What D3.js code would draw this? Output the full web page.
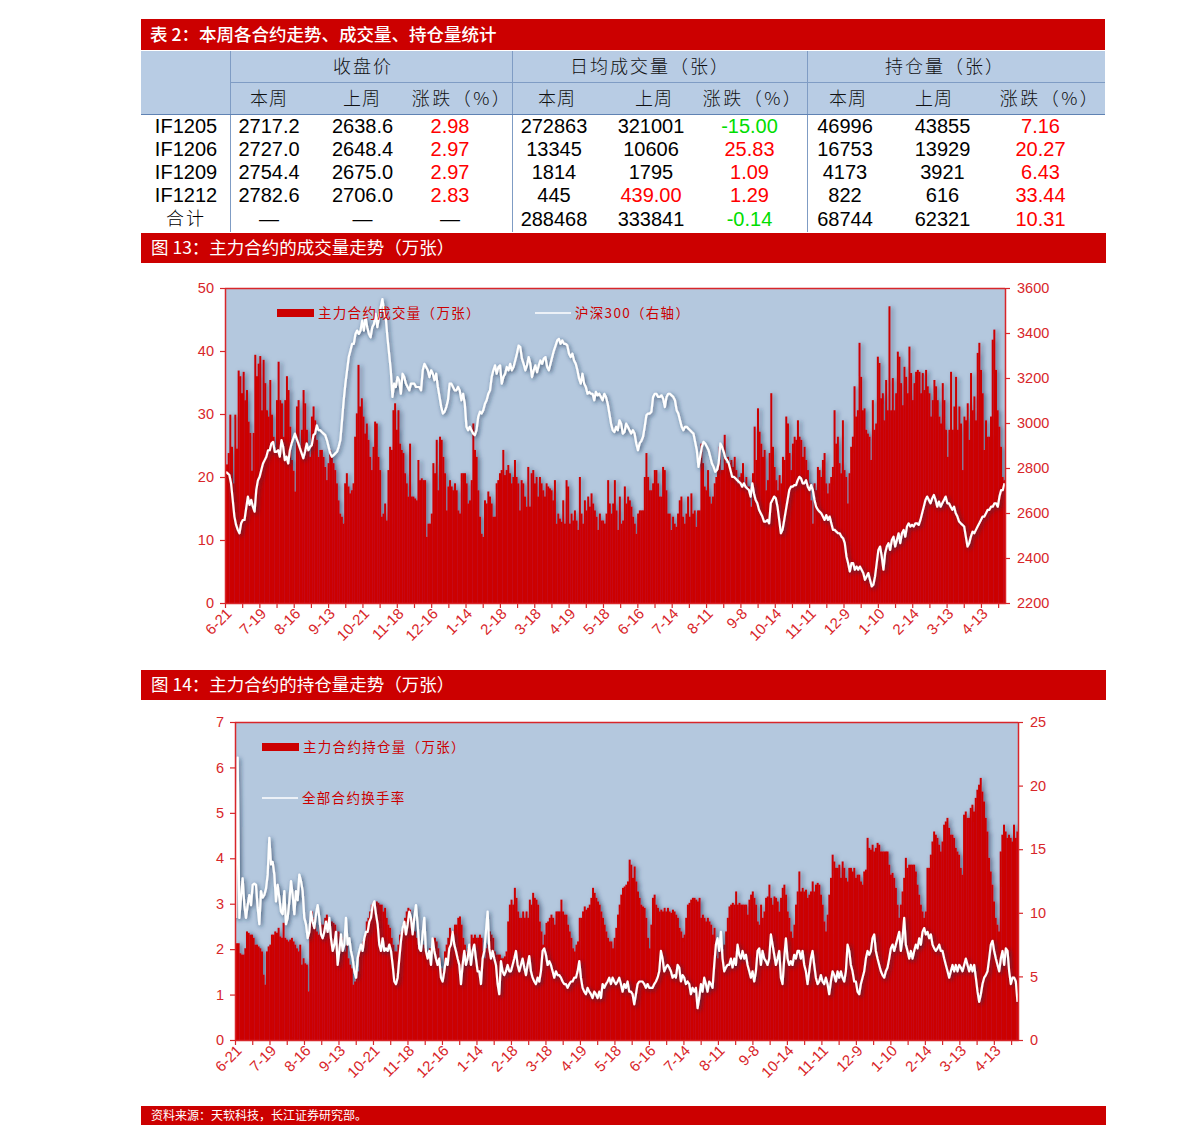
<!DOCTYPE html>
<html><head><meta charset="utf-8">
<script src="https://cdn.jsdelivr.net/npm/d3@7"></script>
<style>body{margin:0;background:#fff;}svg{display:block;}</style>
</head><body>
<svg id="c" width="1191" height="1147"></svg>
<script>
// ---------------- table data ----------------
const tableTitle = "表 2：本周各合约走势、成交量、持仓量统计";
const groupHeaders = ["收盘价", "日均成交量（张）", "持仓量（张）"];
const subHeaders = ["本周", "上周", "涨跌（%）", "本周", "上周", "涨跌（%）", "本周", "上周", "涨跌（%）"];
const contracts = ["IF1205", "IF1206", "IF1209", "IF1212", "合计"];
const closeThis = ["2717.2", "2727.0", "2754.4", "2782.6", "—"];
const closeLast = ["2638.6", "2648.4", "2675.0", "2706.0", "—"];
const closeChg = ["2.98", "2.97", "2.97", "2.83", "—"];
const volThis = ["272863", "13345", "1814", "445", "288468"];
const volLast = ["321001", "10606", "1795", "439.00", "333841"];
const volChg = ["-15.00", "25.83", "1.09", "1.29", "-0.14"];
const oiThis = ["46996", "16753", "4173", "822", "68744"];
const oiLast = ["43855", "13929", "3921", "616", "62321"];
const oiChg = ["7.16", "20.27", "6.43", "33.44", "10.31"];

// ---------------- chart data ----------------
const fig13Title = "图 13：主力合约的成交量走势（万张）";
const fig14Title = "图 14：主力合约的持仓量走势（万张）";
const sourceNote = "资料来源：天软科技，长江证券研究部。";
const dateLabels = ["6-21","7-19","8-16","9-13","10-21","11-18","12-16","1-14","2-18","3-18","4-19","5-18","6-16","7-14","8-11","9-8","10-14","11-11","12-9","1-10","2-14","3-13","4-13"];
const totalDays = 454;
const legend13 = ["主力合约成交量（万张）", "沪深300（右轴）"];
const legend14 = ["主力合约持仓量（万张）", "全部合约换手率"];
const volTicks = [0,10,20,30,40,50];
const hsTicks = [2200,2400,2600,2800,3000,3200,3400,3600];
const oiTicks = [0,1,2,3,4,5,6,7];
const toTicks = [0,5,10,15,20,25];

// main contract volume (10k lots), daily
const volume = [
22,23.8,29.9,24.8,19,29.9,24.5,36.9,36,33.3,36.7,32.2,33.8,28.8,27,21,27,39.4,36,38,39.2,30.6,38.6,34.9,30.6,29.6,35.4,29.9,26.4,23.8,32.2,38.3,32.2,31.7,26.4,32.2,36,33.8,28,22.7,21,17.7,31.2,32.2,24.8,27.5,33.8,31.7,27.5,24.3,23.2,29.6,31.2,29,25.9,23.2,24.3,24.3,23.2,21.6,19.5,22.2,24.3,23.2,22.2,21.1,19,16.3,14.2,13.7,12.6,19,20.6,18.5,17.4,17.9,19,26.4,30.1,37.8,31.2,32.5,29.6,26.9,28.5,25.9,23.2,21.1,24.8,28.8,28.5,23.2,21.1,13.7,14.2,15.8,13.1,21.1,24.8,24.3,30.6,31.7,27.5,30.6,25.3,24.3,23.8,20.6,19,16.9,25.3,16.9,16.9,16.6,16.3,22.7,19.5,19.8,19.5,19.5,10.5,12.6,12.6,14.2,22.2,20.6,25.9,17.9,26.4,25.9,23.2,20.6,14.7,18.5,19.5,18.5,17.9,19,17.9,14.7,14.2,20.6,20.6,20.6,19,15.8,16.3,19.5,28.5,24.3,23.2,17.9,13.7,11,10.5,16.3,15.8,
17.7,16.9,15.8,13.7,13.7,19,19.5,20.6,21.1,24.3,20.3,21.1,21.9,20.6,19,20,22.7,20,19,14.7,19.5,19,16.9,15.3,21.6,15.3,20.6,21.1,19,20,16.9,20,19,17.9,16.9,19,18.5,18.2,17.9,16.3,19.5,12.6,14.2,13.4,12.9,16.3,12.6,19.5,18.5,12.6,14.2,13.1,14.7,13.1,11.6,20,14.2,12.6,16.3,14.7,16.9,15.3,17.4,15.8,14.7,13.7,11.6,14.2,13.1,13.1,12.6,14.2,19.5,15.8,14.2,15.8,19.5,14.7,11.6,16.9,12.6,13.1,18.5,15.8,16.9,16.3,15.3,13.7,12.6,11,14.2,14.7,14.7,14.7,20,23.8,20,17.9,17.9,19,21.1,21.1,19,16.9,16.9,21.6,21.1,17.9,14.2,14.2,11.6,13.7,12.6,12.1,14.2,16.3,16.9,13.7,12.6,14.2,16.9,13.7,17.4,14.2,14.7,12.1,14.7,14.7,25.3,22.2,18.5,17.9,21.1,16.9,15.8,16.9,19,20,21.1,24.8,21.1,21.1,26.7,22.2,23.2,22.2,22.7,21.6,23.2,21.1,19,20,20.6,22.2,19,20,18.5,
18.5,15.3,20.6,28,22.7,30.9,27.2,25.3,23.2,24.3,17.9,19.5,23.8,33.3,24.8,21.6,19.5,17.9,20.3,19,23.2,22.7,29.6,28.5,23.8,21.1,25.3,26.4,25.9,29,26.4,25.9,23.2,24.8,22.7,21.1,19,16.3,12.6,19,17.9,21.6,21.1,20,22.7,23.8,19,17.4,19,20,21.6,30.6,25.3,26.4,22.2,20.6,29,21.1,20,15.8,20.6,24.8,26.4,34.4,29.6,30.6,41.3,35.9,30.6,30.9,27.5,26.9,26.4,22.7,32.2,27.5,28.5,39.1,38.1,32.5,33.3,29,35.4,30.6,47.1,30.6,35.7,30.6,33.3,39.9,39.1,34.9,31.4,37.5,35.9,33.3,40.7,36.5,32.2,34.9,36.7,37,36.7,33.3,36.5,33.8,37,34.4,33.3,29.6,32.2,35.4,34.4,32.2,29.6,28.5,34.9,32.2,27.5,23.2,27.5,36.7,27.5,31.2,35.9,27.5,31.2,28.5,21.1,29.6,29,31.7,25.9,36.5,30.6,32.8,29,39.7,41.3,37,33.3,24.3,29,26.4,26.4,29.6,41.8,43.4,37,30.6,28,24.8,20,19.5
];

// CSI 300 index (right axis)
const hs300 = [
2783,2776,2769,2732,2658,2584,2547,2525,2510,2554,2569,2569,2621,2673,2636,2658,2628,2606,2702,2746,2761,2791,2820,2835,2850,2879,2879,2909,2916,2872,2872,2879,2850,2924,2894,2835,2850,2820,2879,2909,2931,2953,2931,2909,2887,2865,2843,2872,2909,2879,2894,2901,2946,2953,2990,2968,2968,2960,2953,2946,2924,2894,2865,2850,2857,2865,2872,2894,2924,3012,3101,3175,3234,3293,3322,3352,3352,3396,3411,3396,3411,3455,3411,3470,3426,3396,3381,3426,3440,3485,3426,3470,3514,3551,3500,3470,3381,3308,3234,3116,3175,3160,3204,3190,3130,3219,3204,3175,3160,3145,3175,3175,3175,3160,3160,3160,3145,3234,3263,3249,3234,3204,3234,3219,3190,3219,3160,3116,3071,3042,3050,3071,3101,3175,3175,3160,3145,3145,3160,3145,3101,3130,3086,2983,2968,2983,2968,2953,2946,2968,3027,3050,3042,3057,3086,3101,3130,3145,3204,3234,3256,3219,3249,3256,3175,3204,3219,3249,3234,3263,3234,3249,3278,3308,3344,3337,3286,3263,3234,3256,3293,3263,3204,3234,3256,3226,3256,3278,3263,3286,3293,3249,3234,3263,3293,3322,3344,3367,3374,3352,3367,3352,3352,3344,3308,3293,3308,3278,3263,3234,3197,3175,3219,3175,3160,3130,3138,3130,3130,3101,3138,3123,3130,3116,3101,3130,3116,3086,3042,2997,2968,2960,2983,2968,3012,2997,2953,2960,2997,2983,2968,2953,2968,2953,2909,2879,
2909,2920,2938,2983,3034,3042,3042,3050,3116,3130,3130,3116,3116,3123,3108,3071,3116,3130,3130,3123,3116,3101,3057,3042,3012,2983,2968,2983,2983,2975,2968,2960,2953,2916,2879,2805,2850,2894,2916,2909,2894,2879,2850,2820,2805,2783,2791,2820,2909,2894,2872,2843,2835,2820,2791,2761,2761,2754,2746,2739,2732,2717,2732,2717,2709,2702,2673,2732,2687,2658,2643,2614,2599,2584,2562,2562,2569,2554,2643,2658,2673,2665,2628,2569,2510,2525,2569,2614,2658,2702,2717,2717,2724,2724,2746,2761,2754,2732,2732,2746,2717,2702,2724,2702,2658,2628,2614,2606,2599,2584,2569,2591,2569,2584,2554,2525,2525,2517,2510,2510,2495,2488,2466,2407,2377,2340,2377,2377,2348,2362,2348,2362,2348,2333,2303,2318,2333,2303,2274,2281,2318,2377,2436,2451,2407,2348,2421,2451,2466,2436,2480,2495,2451,2480,2510,2466,2510,2525,2495,2540,2554,2540,2547,2540,2554,2554,2547,2569,2599,2628,2658,2673,2658,2643,2665,2680,2658,2628,2651,2628,2643,2658,2673,2643,2643,2628,2614,2628,2599,2584,2562,2554,2547,2540,2495,2451,2466,2495,2517,2510,2525,2540,2554,2569,2584,2584,2599,2614,2614,2628,2628,2643,2643,2628,2673,2702,2702,2732
];

// main contract open interest (10k lots)
const openInterest = [
2.13,2.13,1.91,1.88,1.88,2.02,2.39,2.36,2.32,2.32,2.25,2.1,2.1,2.06,2.02,1.95,1.44,1.22,1.95,2.06,2.1,2.32,2.32,2.39,2.36,2.47,2.28,2.25,2.58,2.25,2.21,2.17,2.21,2.25,2.17,2.1,2.02,1.95,2.1,1.66,1.8,1.69,1.66,1.07,2.54,2.83,2.69,2.54,2.39,2.32,2.61,2.54,2.54,2.69,2.76,2.69,2.39,2.61,2.58,2.54,2.32,2.39,2.32,2.25,2.1,1.95,2.1,1.8,1.66,1.58,1.22,1.29,1.36,1.51,1.95,2.1,2.17,2.32,2.61,2.69,2.83,2.98,3.02,2.98,3.05,3.02,2.98,2.98,2.83,2.91,2.69,2.54,2.47,2.25,2.1,1.95,1.95,2.1,2.32,2.39,2.54,2.69,2.83,2.91,2.87,2.69,2.54,2.39,2.25,2.1,1.95,2.02,2.1,2.02,1.95,1.8,2.02,1.95,2.25,2.25,2.17,2.02,1.8,1.58,1.51,1.95,2.1,2.25,2.47,2.39,2.39,2.54,2.54,2.69,2.72,2.54,2.25,2.1,1.95,2.02,2.1,2.32,2.25,2.32,2.25,2.25,2.32,2.25,1.95,1.8,2.02,2.1,2.39,2.32,2.25,1.95,1.88,1.88,1.88,
1.8,1.8,1.84,1.95,2.61,2.98,3.09,2.98,3.35,3.13,2.83,2.69,2.69,2.83,2.69,2.83,2.69,3.09,2.98,3.24,3.13,3.09,2.98,2.61,2.39,2.1,2.32,2.58,2.61,2.69,2.76,2.69,2.54,2.83,2.83,2.83,3.09,2.83,2.76,2.76,2.54,2.39,2.25,2.02,1.95,2.1,2.17,2.69,2.69,2.83,2.94,2.87,2.91,2.98,3.13,3.35,3.24,3.13,3.05,2.98,2.83,2.69,2.54,2.39,2.25,2.17,2.17,2.02,2.25,2.47,2.76,2.98,3.2,3.35,3.38,3.42,3.49,3.97,3.86,3.57,3.82,3.49,3.27,3.13,2.98,2.94,2.91,2.69,2.25,2.02,2.54,3.13,3.2,2.98,2.91,2.83,2.87,2.83,2.91,2.83,2.91,2.83,2.8,2.87,2.83,2.76,2.69,2.47,2.39,2.25,2.32,2.69,2.98,3.02,3.09,3.13,3.13,3.09,3.05,3.13,2.69,2.76,2.69,2.61,2.69,2.61,2.54,2.32,2.47,2.1,1.8,1.95,2.1,1.95,2.1,2.39,2.69,2.94,2.98,3.02,2.98,3.27,2.98,3.02,2.98,2.98,2.98,2.98,2.76,3.09,3.2,3.27,3.13,2.98,2.61,2.54,
2.98,2.69,2.83,3.13,3.16,3.42,3.13,2.98,3.16,3.13,3.05,2.83,3.13,3.35,3.42,3.2,2.83,2.69,2.39,2.25,2.54,2.98,3.27,3.71,3.27,3.35,3.27,3.31,3.13,3.2,3.27,3.49,3.27,3.42,3.46,3.42,3.2,2.98,2.61,2.39,2.76,3.2,3.57,4.08,3.93,3.79,3.79,3.86,3.57,3.93,3.79,3.57,3.49,3.79,3.79,3.71,3.79,3.57,3.64,3.64,3.49,3.42,3.71,3.75,4.45,4.23,4.19,4.3,4.15,4.23,4.34,4.3,4.15,4.15,4.15,4.15,4.15,3.86,3.64,3.68,3.57,3.35,2.98,2.69,2.98,3.27,3.57,4.01,3.79,3.86,3.86,3.86,3.86,3.71,3.42,3.2,2.98,2.83,2.69,2.83,3.79,3.79,4.08,4.37,4.59,4.52,4.45,4.3,4.15,4.37,4.74,4.81,4.89,4.67,4.52,4.52,4.45,4.23,4.15,4.08,3.79,3.64,4.96,5.03,4.89,4.89,5.11,5.18,5.03,5.33,5.51,5.62,5.77,5.47,5.25,4.89,4.59,4.01,3.71,3.42,3.05,2.69,2.54,2.39,4.15,4.52,4.74,4.59,4.45,4.52,4.45,4.37,4.74,4.45,4.59
];

// turnover of all contracts (right axis)
const turnover = [
9.6,22.2,9.6,11.2,12.7,10.6,9.6,10.6,11.4,10.6,12.2,12.3,12.2,10.4,9.1,11.7,11.2,11.4,11.9,13,15.9,13.8,14,13,10.9,12.2,11.2,10.1,9.9,11.7,9.1,9.6,10.9,12.5,11.4,9.9,11.7,11,13,12.5,11.7,9.6,9.1,8,8.5,10.1,9.3,8.8,9.9,10.6,9.6,8.3,8,8.5,9.3,8.5,9.6,8,7,7.5,8.5,5.9,7,8.3,7,7.5,9.6,7.5,8,7,6.4,5.4,4.9,6.4,7,7.5,7,8,8.5,8.5,9.3,9.6,10.6,10.9,9.9,9.1,7.5,7,8,7,7.2,7,7.5,7,5.9,4.6,4.4,4.9,6.4,7.8,8.8,9.3,8.3,9.1,10.1,9.6,8.3,9.6,10.6,9.1,7.2,7,8.3,9.6,7,6.4,7,5.9,8,7,6.4,5.9,6.4,4.9,4.6,5.4,6.4,5.9,7.2,7.5,8.5,7.5,7,6.4,5.9,4.4,5.9,7,5.9,6.4,7.5,5.9,7,7.5,6.4,5.4,5.4,4.4,6.4,7,8.5,10.1,7.2,6.4,7,6.4,5.9,4.4,3.6,
6.2,5.4,5.1,5.4,5.9,5.4,5.4,5.9,6.4,7,5.9,5.4,5.9,6.4,5.7,5.1,5.9,6.6,5.4,4.9,4.6,4.4,4.9,4.6,5.4,7,7.2,6.7,5.9,6.2,5.9,5.4,4.9,5.4,5.1,5.1,4.9,4.6,4.4,4.4,4.1,4.4,4.6,4.6,4.9,4.9,5.4,6.2,4.9,4.1,3.8,3.6,4.1,3.8,3.6,3.3,3.8,3.6,3.3,3.8,3.3,4.4,4.1,4.4,4.6,4.9,4.4,4.9,4.6,4.4,4.6,4.9,4.4,3.8,4.4,4.1,4.6,3.8,3.8,3.6,2.8,3.6,4.4,4.6,4.6,4.6,4.4,4.1,4.4,4.1,4.1,4.1,4.4,4.6,4.9,5.4,7,6.4,5.4,5.7,5.9,5.7,5.4,4.9,5.1,4.9,5.9,5.7,4.6,5.1,4.9,4.4,4.6,4.4,3.6,4.1,3.8,4.1,2.5,3.3,4.4,3.8,4.9,4.4,3.8,4.6,4.4,4.1,5.9,7.5,8,7,8.5,6.4,5.4,5.7,5.9,5.9,6.4,5.7,6.4,5.9,7.5,6.7,6.4,7,6.4,6.7,5.9,5.4,4.9,5.4,4.6,5.4,7,7.2,
5.9,7,6.4,6.2,5.9,6.4,8.3,7.5,6.7,5.9,6.4,7,4.9,4.4,6.4,8,6.4,5.9,6.2,5.9,6.7,6.4,7,7,6.4,7,5.9,5.4,4.4,5.4,6.4,7,5.9,4.9,4.4,4.6,5.1,4.6,4.4,4.9,4.4,3.6,4.6,5.4,5.1,4.6,5.4,4.9,5.4,4.9,4.6,5.4,7.5,7,5.9,5.4,4.6,4.6,3.8,3.6,4.4,4.9,5.4,6.4,7,6.7,7,8,8.3,7,6.4,5.9,5.4,5.1,4.9,5.4,5.7,6.4,7.2,7.5,7,7.5,8,8.5,7,8,9.6,7.5,7,6.4,7,6.4,7,7.5,7.2,8,7.5,8.5,8.8,8.3,8.5,8,8.3,7.5,7.2,7,7.2,7.5,7,7,6.4,5.9,5.4,4.9,5.4,5.9,5.4,5.9,5.4,5.9,5.7,5.4,5.9,6.4,5.9,5.4,5.9,5.4,5.9,4.9,3.8,3,3.6,4.4,4.9,5.1,5.4,6.4,7.5,7.8,7,6.4,5.9,5.4,6.4,7,5.9,7.2,7,5.4,4.4,4.9,4.9,4.6,3
];

// ---------------- drawing ----------------
const RED = "#cc0000";
const AXRED = "#d8262a";
const PLOTBG = "#b4c8de";
const CJK = "'Noto Sans CJK SC', 'Noto Sans', sans-serif";
const LAT = "'Liberation Sans', Arial, sans-serif";
const svg = d3.select("#c");

const defs = svg.append("defs");
const fb = defs.append("filter").attr("id","barShadow").attr("x","-2%").attr("y","-5%").attr("width","104%").attr("height","110%");
fb.append("feDropShadow").attr("dx",2.5).attr("dy",1).attr("stdDeviation",2).attr("flood-color","#1c3352").attr("flood-opacity",0.55);
const fl = defs.append("filter").attr("id","lineShadow").attr("x","-2%").attr("y","-10%").attr("width","104%").attr("height","120%");
fl.append("feDropShadow").attr("dx",1.5).attr("dy",1.5).attr("stdDeviation",2.2).attr("flood-color","#1c3352").attr("flood-opacity",0.75);

// ---- Table ----
const tL = 141, tR = 1105;
svg.append("rect").attr("x",tL).attr("y",19).attr("width",tR-tL).attr("height",31).attr("fill",RED);
svg.append("text").attr("x",150).attr("y",35).attr("dy","0.36em").attr("fill","#fff").style("font-family",CJK).style("font-size","17.5px").style("font-weight",500).text(tableTitle);
svg.append("rect").attr("x",tL).attr("y",51).attr("width",tR-tL).attr("height",63).attr("fill","#b8cce4");

const groupCenters = [363, 650, 945];
groupHeaders.forEach((h,i)=>{
  svg.append("text").attr("x",groupCenters[i]).attr("y",67).attr("dy","0.36em").attr("text-anchor","middle")
    .style("font-family",CJK).style("font-size","18px").style("font-weight",300).style("letter-spacing","2px").attr("fill","#111").text(h);
});
const subCenters = [269, 362, 462, 557, 654, 753, 848, 934, 1050];
subHeaders.forEach((h,i)=>{
  svg.append("text").attr("x",subCenters[i]).attr("y",99).attr("dy","0.36em").attr("text-anchor","middle")
    .style("font-family",CJK).style("font-size","18px").style("font-weight",300).style("letter-spacing", h.length > 2 ? "2.5px" : "1px").attr("fill","#111").text(h);
});
// table lines
const lineCol = "#7f9cc4";
[230.5, 512.5, 807.5].forEach(x=>{
  svg.append("line").attr("x1",x).attr("x2",x).attr("y1",51).attr("y2",232).attr("stroke",lineCol).attr("stroke-width",1);
});
svg.append("line").attr("x1",230).attr("x2",tR).attr("y1",82.5).attr("y2",82.5).attr("stroke",lineCol);
svg.append("line").attr("x1",tL).attr("x2",tR).attr("y1",114.5).attr("y2",114.5).attr("stroke","#5f82b3");

const cols = [closeThis, closeLast, closeChg, volThis, volLast, volChg, oiThis, oiLast, oiChg];
const colCenters = [269, 362.5, 450, 554, 651, 749.5, 845, 942.5, 1040.5];
const chgCols = [2, 5, 8];
const rowY = [126, 149, 172, 195, 219];
contracts.forEach((c,r)=>{
  svg.append("text").attr("x",186).attr("y",rowY[r]).attr("dy","0.36em").attr("text-anchor","middle")
    .style("font-family", r===4 ? CJK : LAT).style("font-size", r===4 ? "18px":"20px").style("font-weight",r===4?300:400)
    .style("letter-spacing", r===4 ? "2px" : "0px").attr("fill","#000").text(c);
  cols.forEach((col,ci)=>{
    const v = col[r];
    let fill = "#000";
    if (chgCols.includes(ci) && v !== "—") fill = (+v < 0) ? "#00dd00" : "#ff0000";
    if (ci === 4 && v.indexOf(".") >= 0) fill = "#ff0000";
    svg.append("text").attr("x",colCenters[ci]).attr("y",rowY[r]).attr("dy","0.36em").attr("text-anchor","middle")
      .style("font-family",LAT).style("font-size","20px").attr("fill",fill).text(v);
  });
});

// ---- Title bars ----
function titleBar(y, h, text, size){
  svg.append("rect").attr("x",tL).attr("y",y).attr("width",tR-tL+1).attr("height",h).attr("fill",RED);
  svg.append("text").attr("x",151).attr("y",y+h/2).attr("dy","0.36em").attr("fill","#fff")
    .style("font-family",CJK).style("font-size",size+"px").style("font-weight",400).text(text);
}
titleBar(233, 30, fig13Title, 17.5);
titleBar(670, 30, fig14Title, 17.5);
titleBar(1106, 19, sourceNote, 12);

// ---- Charts ----
function drawChart(cfg){
  const {x0,x1,y0,y1,bars,line,leftDom,rightDom,leftTicks,rightTicks,id} = cfg;
  const g = svg.append("g");
  g.append("rect").attr("x",x0).attr("y",y0).attr("width",x1-x0).attr("height",y1-y0).attr("fill",PLOTBG);
  const clip = defs.append("clipPath").attr("id","clip"+id);
  clip.append("rect").attr("x",x0).attr("y",y0).attr("width",x1-x0).attr("height",y1-y0);

  const yL = d3.scaleLinear().domain(leftDom).range([y1,y0]);
  const yR = d3.scaleLinear().domain(rightDom).range([y1,y0]);
  const xb = d3.scaleBand().domain(d3.range(bars.length)).range([x0+1,x1]).padding(0);
  const xl = d3.scaleLinear().domain([0,line.length-1]).range([x0+1,x1-0.5]);
  const xt = d3.scaleLinear().domain([0,totalDays]).range([x0,x1]);

  const pg = g.append("g").attr("clip-path","url(#clip"+id+")");
  pg.append("g").attr("filter","url(#barShadow)").selectAll("rect").data(bars).join("rect")
    .attr("x",(d,i)=>xb(i)).attr("width",xb.bandwidth()+0.35)
    .attr("y",d=>yL(d)).attr("height",d=>y1-yL(d)).attr("fill",RED);
  pg.append("path").datum(line).attr("fill","none").attr("stroke","#ffffff").attr("stroke-width",2.2)
    .attr("stroke-linejoin","round").attr("filter","url(#lineShadow)")
    .attr("d", d3.line().x((d,i)=>xl(i)).y(d=>yR(d)));

  // top border
  g.append("line").attr("x1",x0).attr("x2",x1).attr("y1",y0+0.5).attr("y2",y0+0.5).attr("stroke",AXRED).attr("stroke-width",1.5);

  const styleAxis = sel => {
    sel.selectAll("path").attr("stroke",AXRED).attr("stroke-width",1.5);
    sel.selectAll("line").attr("stroke",AXRED).attr("stroke-width",1.2);
    sel.selectAll("text").attr("fill",AXRED).style("font-family",LAT).style("font-size","14.5px");
  };
  const aL = g.append("g").attr("transform",`translate(${x0},0)`)
    .call(d3.axisLeft(yL).tickValues(leftTicks).tickSize(5).tickSizeOuter(0).tickPadding(6).tickFormat(d3.format("d")));
  styleAxis(aL);
  const aR = g.append("g").attr("transform",`translate(${x1},0)`)
    .call(d3.axisRight(yR).tickValues(rightTicks).tickSize(5).tickSizeOuter(0).tickPadding(7).tickFormat(d3.format("d")));
  styleAxis(aR);
  const aB = g.append("g").attr("transform",`translate(0,${y1})`)
    .call(d3.axisBottom(xt).tickValues(d3.range(0,totalDays,10)).tickSize(5).tickSizeOuter(0)
      .tickFormat(d => d % 20 === 0 ? (dateLabels[d/20] || "") : ""));
  styleAxis(aB);
  aB.selectAll("text").attr("x",-3).attr("y",8).attr("dy","0.35em").attr("transform","rotate(-45)")
    .style("text-anchor","end").style("font-size","15px");
  return g;
}

drawChart({id:1, x0:225, x1:1005, y0:288, y1:603, bars:volume, line:hs300,
  leftDom:[0,50], rightDom:[2200,3600], leftTicks:volTicks, rightTicks:hsTicks});
drawChart({id:2, x0:235, x1:1018, y0:722, y1:1040, bars:openInterest, line:turnover,
  leftDom:[0,7], rightDom:[0,25], leftTicks:oiTicks, rightTicks:toTicks});

// legends
function legendBar(x,y,text){
  svg.append("rect").attr("x",x).attr("y",y-4).attr("width",37).attr("height",8).attr("fill",RED);
  svg.append("text").attr("x",x+41).attr("y",y).attr("dy","0.36em").attr("fill",RED)
    .style("font-family",CJK).style("font-size","13.5px").style("letter-spacing","1.3px").text(text);
}
function legendLine(x,y,text){
  svg.append("line").attr("x1",x).attr("x2",x+36).attr("y1",y).attr("y2",y).attr("stroke","#fff").attr("stroke-width",1.5);
  svg.append("text").attr("x",x+40).attr("y",y).attr("dy","0.36em").attr("fill",RED)
    .style("font-family",CJK).style("font-size","13.5px").style("letter-spacing","1.3px").text(text);
}
legendBar(277, 313, legend13[0]);
legendLine(535, 313, legend13[1]);
legendBar(262, 747, legend14[0]);
legendLine(262, 798, legend14[1]);
</script>
</body></html>
